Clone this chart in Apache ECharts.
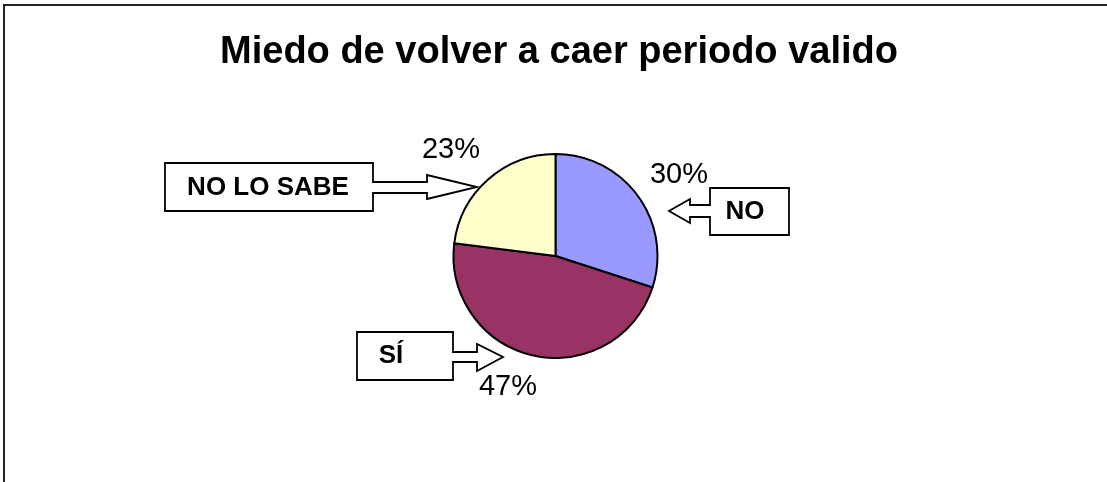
<!DOCTYPE html>
<html>
<head>
<meta charset="utf-8">
<script src="https://cdn.jsdelivr.net/npm/echarts@6/dist/echarts.min.js"></script>
<style>
html,body{margin:0;padding:0;background:#fff;}
#chart{width:1107px;height:482px;}
</style>
</head>
<body>
<div id="chart"></div>
<script>
const titleText = 'Miedo de volver a caer periodo valido';
const categories = ['NO', 'SÍ', 'NO LO SABE'];
const values = [30, 47, 23];
const sliceColors = ['#9999FF', '#993366', '#FFFFCC'];
const calloutLabels = ['NO', 'SÍ', 'NO LO SABE'];

// label placement (styling only)
const labelPos = [[679, 175], [508, 387], [451, 150]];

const chart = echarts.init(document.getElementById('chart'), null, {renderer: 'canvas'});

const stroke = {stroke: '#000', lineWidth: 1.8, fill: '#fff'};
function poly(points) {
  return {type: 'polygon', shape: {points: points}, style: Object.assign({}, stroke), z: 10};
}
function boxText(x, y, txt) {
  return {type: 'text', x: x, y: y, z: 11,
    style: {text: txt, fill: '#000', font: 'bold 26px "Liberation Sans", Arial, sans-serif', align: 'center', verticalAlign: 'middle'}};
}

const option = {
  backgroundColor: '#fff',
  animation: false,
  graphic: [
    {type: 'polyline', shape: {points: [[4, 500], [4, 5], [1120, 5]]}, style: {stroke: '#222', lineWidth: 2, fill: null}, z: 5},
    {type: 'text', x: 559, y: 53, z: 11,
      style: {text: titleText, fill: '#000', font: 'bold 38px "Liberation Sans", Arial, sans-serif', align: 'center', verticalAlign: 'middle'}},
    poly([[165,163],[373,163],[373,182],[427,182],[427,175],[477,187],[427,199],[427,193],[373,193],[373,211],[165,211]]),
    boxText(268, 188, calloutLabels[2]),
    poly([[710,188],[789,188],[789,235],[710,235],[710,217],[690,217],[690,223],[669,211],[690,199],[690,205],[710,205]]),
    boxText(745, 212, calloutLabels[0]),
    poly([[357,332],[453,332],[453,352],[477,352],[477,344],[503,357],[477,371],[477,362],[453,362],[453,380],[357,380]]),
    boxText(391, 356, calloutLabels[1])
  ],
  series: [{
    type: 'pie',
    center: [555.5, 256],
    radius: 102,
    startAngle: 90,
    clockwise: true,
    data: categories.map((c, i) => ({name: c, value: values[i], itemStyle: {color: sliceColors[i]}})),
    itemStyle: {borderColor: '#000', borderWidth: 2},
    label: {
      show: true,
      position: 'outside',
      formatter: p => Math.round(p.percent) + '%',
      fontFamily: '"Liberation Sans", Arial, sans-serif',
      fontSize: 29,
      color: '#000'
    },
    labelLine: {show: false},
    labelLayout: function (params) {
      const p = labelPos[params.dataIndex];
      return {x: p[0], y: p[1], align: 'center', verticalAlign: 'middle'};
    },
    emphasis: {disabled: true}
  }]
};
chart.setOption(option);
</script>
</body>
</html>
